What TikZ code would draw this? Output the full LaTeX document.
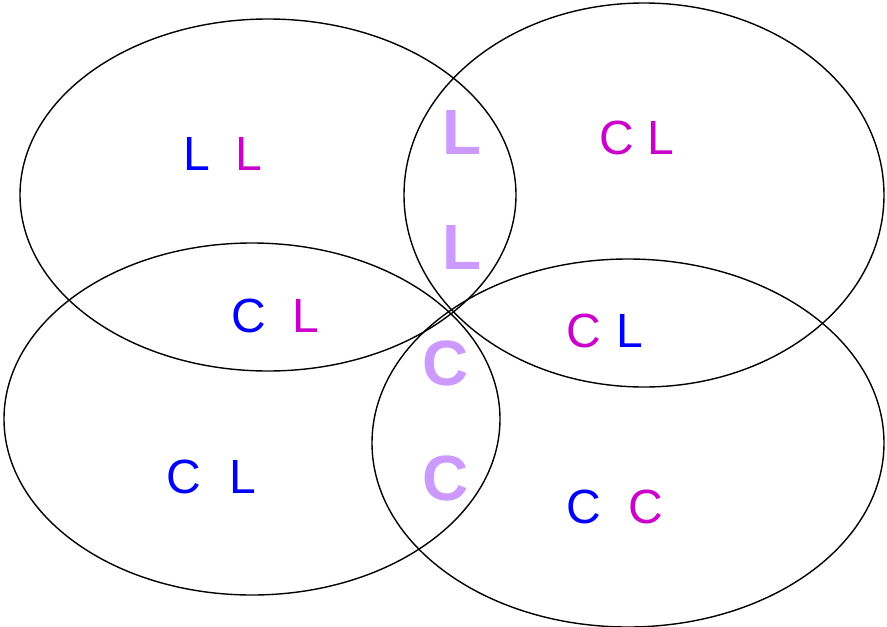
\documentclass[tikz,border=0pt]{standalone}
\usepackage{fontspec}
\setmainfont{Liberation Sans}
\definecolor{cblue}{RGB}{0,0,255}
\definecolor{cmag}{RGB}{204,0,204}
\definecolor{clil}{RGB}{204,153,255}
\begin{document}
\begin{tikzpicture}[x=1pt,y=-1pt,
  ring/.style={draw=black,line width=1.4pt},
  letter/.style={inner sep=0pt,font=\fontsize{48}{48}\selectfont},
  bl/.style={letter,text=cblue},
  mg/.style={letter,text=cmag},
  big/.style={inner sep=0pt,text=clil,font=\fontsize{64}{64}\selectfont\bfseries}]
\useasboundingbox (0,0) rectangle (887,627);
\draw[ring] (268,195) ellipse [x radius=248, y radius=176];
\draw[ring] (644,195) ellipse [x radius=240, y radius=192];
\draw[ring] (252,419) ellipse [x radius=248, y radius=176];
\draw[ring] (628,443) ellipse [x radius=256, y radius=184];
% top-left
\node[bl] (a1) at (197,154) {L};
\node[mg] (a2) at (249,154) {L};
% top-right
\node[mg] (b1) at (617,138) {C};
\node[mg] (b2) at (661,138) {L};
% middle-left
\node[bl] (c1) at (249,316) {C};
\node[mg] (c2) at (306,316) {L};
% middle-right
\node[mg] (d1) at (584,331) {C};
\node[bl] (d2) at (630,331) {L};
% bottom-left
\node[bl] (e1) at (184,477) {C};
\node[bl] (e2) at (243,477) {L};
% bottom-right
\node[bl] (f1) at (584,507) {C};
\node[mg] (f2) at (646,507) {C};
% big centre letters
\node[big] (g1) at (462,132) {L};
\node[big] (g2) at (462,247) {L};
\node[big] (g3) at (446,363) {C};
\node[big] (g4) at (446,478) {C};
\end{tikzpicture}
\end{document}
